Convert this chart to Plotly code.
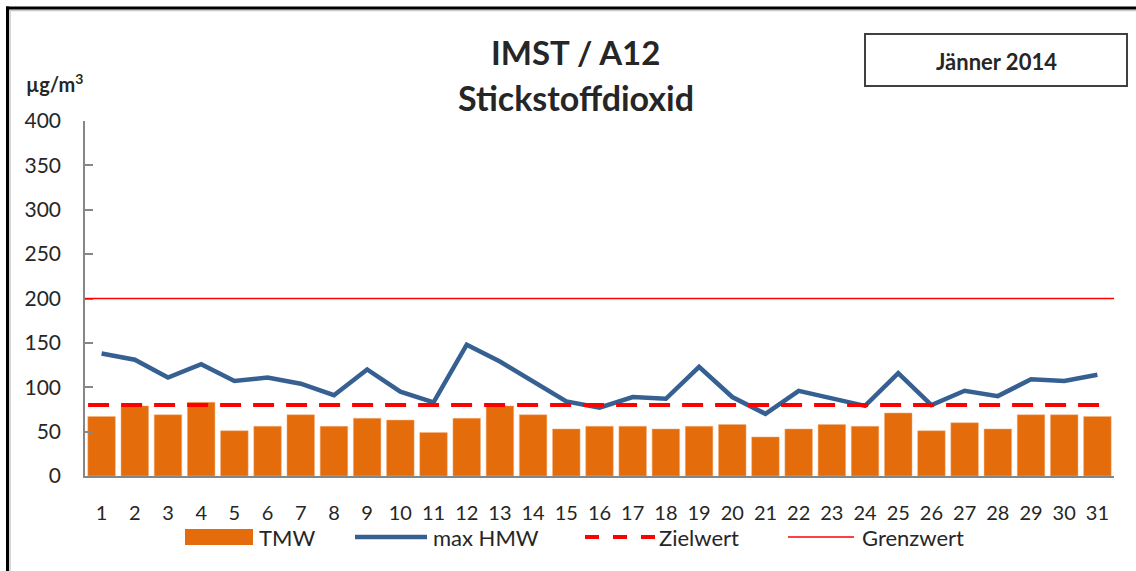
import plotly.graph_objects as go

days = list(range(1, 32))
tick_labels = [str(d) for d in days]
tmw = [67, 79, 69, 83, 51, 56, 69, 56, 65, 63, 49, 65, 79, 69, 53, 56, 56, 53, 56, 58,
       44, 53, 58, 56, 71, 51, 60, 53, 69, 69, 67]
max_hmw = [138, 131, 111, 126, 107, 111, 104, 91, 120, 95, 83, 148, 129, 106, 84, 77, 89, 87,
           123, 89, 70, 96, 87, 79, 116, 80, 96, 90, 109, 107, 114]
zielwert = 80
grenzwert = 200
y_ticks = [0, 50, 100, 150, 200, 250, 300, 350, 400]

W, H = 1136, 571
L, R, T, B = 85, 1114, 121, 476
FONT = "Lato"
TXT = "#262626"


def px(x):
    return (x - L) / (R - L)


def py(y):
    return (B - y) / (B - T)


def label(text, x, y, size, xanchor="left"):
    return dict(text=text, xref="paper", yref="paper", x=px(x), y=py(y), xanchor=xanchor, yanchor="middle",
                showarrow=False, font=dict(family=FONT, size=size, color=TXT))


def pline(x0, x1, y0, y1, color, width, dash="solid"):
    return dict(type="line", xref="paper", yref="paper", x0=px(x0), x1=px(x1), y0=py(y0), y1=py(y1),
                line=dict(color=color, width=width, dash=dash), layer="above")


fig = go.Figure()
fig.add_trace(go.Bar(x=days, y=tmw, name="TMW", marker=dict(color="#E46C0A", line=dict(color="#F4B183", width=0.5)),
                     showlegend=False))
fig.add_trace(go.Scatter(x=days, y=max_hmw, name="max HMW", mode="lines",
                         line=dict(color="#376092", width=4.5), showlegend=False))

shapes = []
annotations = []

# reference lines (Grenzwert, Zielwert)
shapes.append(dict(type="line", xref="paper", yref="y", x0=0, x1=1, y0=grenzwert, y1=grenzwert,
                   line=dict(color="#FF0000", width=1.5), layer="above"))
shapes.append(dict(type="line", xref="paper", yref="y", x0=0.003, x1=0.997, y0=zielwert, y1=zielwert,
                   line=dict(color="#FF0000", width=4, dash="21px,12px"), layer="above"))

# outer border (top and left)
shapes.append(pline(9, 1140, 10.5, 10.5, "#C8C8C8", 1.5))
shapes.append(pline(10, 10, 9.5, 575, "#C8C8C8", 1.5))
shapes.append(pline(6, 1140, 8, 8, "#000000", 3))
shapes.append(pline(7.5, 7.5, 6.5, 575, "#000000", 3))

# month box
shapes.append(dict(type="rect", xref="paper", yref="paper", x0=px(865), x1=px(1127), y0=py(86), y1=py(34),
                   line=dict(color="#404040", width=2), fillcolor="white"))
annotations.append(label("<b>Jänner 2014</b>", 996, 61, 22, "center"))

# titles
annotations.append(label("<b>IMST / A12</b>", 575, 52, 33, "center"))
annotations.append(label("<b>Stickstoffdioxid</b>", 576, 97, 34, "center"))
annotations.append(label("<b>µg/m<sup>3</sup></b>", 24, 83, 20, "left"))

# custom legend
ly = 537
LF = 22
shapes.append(dict(type="rect", xref="paper", yref="paper", x0=px(185), x1=px(253), y0=py(545), y1=py(529),
                   line=dict(width=0), fillcolor="#E46C0A"))
annotations.append(label("TMW", 257, ly, LF))
shapes.append(pline(355, 427, ly, ly, "#376092", 4.5))
annotations.append(label("max HMW", 431, ly, LF))
shapes.append(pline(585, 656, ly, ly, "#FF0000", 4, "14px,14px"))
annotations.append(label("Zielwert", 657, ly, LF))
shapes.append(pline(788, 854, ly, ly, "#FF0000", 1.5))
annotations.append(label("Grenzwert", 860, ly, LF))

fig.update_layout(
    width=W, height=H,
    margin=dict(l=L, r=W - R, t=T, b=H - B, pad=0),
    paper_bgcolor="white", plot_bgcolor="white",
    bargap=0.17,
    showlegend=False,
    font=dict(family=FONT, size=21, color=TXT),
    shapes=shapes, annotations=annotations,
    xaxis=dict(range=[0.5, 31.5], tickmode="array", tickvals=days, ticktext=tick_labels,
               showline=True, linecolor="#868686", linewidth=1.5, ticks="", showgrid=False, zeroline=False,
               ticklabelstandoff=18, tickfont=dict(family=FONT, size=20, color=TXT)),
    yaxis=dict(range=[0, 400], tickmode="array", tickvals=y_ticks, showline=True, linecolor="#868686",
               linewidth=1.5, ticks="inside", ticklen=8, tickcolor="#868686", tickwidth=1.5,
               showgrid=False, zeroline=False, ticklabelstandoff=18,
               tickfont=dict(family=FONT, size=21, color=TXT)),
)

fig.write_html("out.html", config={"displayModeBar": False},
               post_script="document.body.style.margin='0';document.body.style.overflow='hidden';")
